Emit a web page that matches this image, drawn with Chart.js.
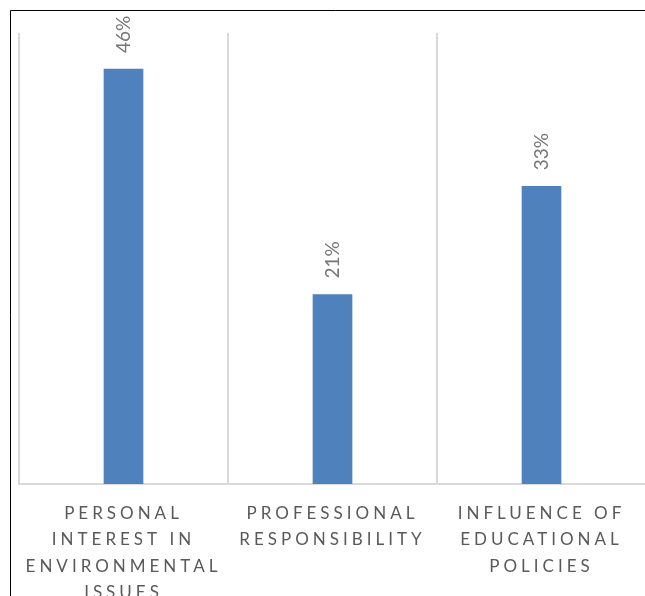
<!DOCTYPE html>
<html>
<head>
<meta charset="utf-8">
<script src="https://cdn.jsdelivr.net/npm/chart.js@4.4.0/dist/chart.umd.min.js"></script>
<style>
  html, body { margin: 0; padding: 0; background: #ffffff; overflow: hidden; }
  #wrap { position: absolute; left: 0; top: 0; width: 660px; height: 620px; }
</style>
</head>
<body>
<div id="wrap"><canvas id="chart" width="660" height="620"></canvas></div>
<script>
// Share of respondents by motivation
const categories = [
  ['PERSONAL', 'INTEREST IN', 'ENVIRONMENTAL', 'ISSUES'],
  ['PROFESSIONAL', 'RESPONSIBILITY'],
  ['INFLUENCE OF', 'EDUCATIONAL', 'POLICIES']
];
const values = [46, 21, 33];
const valueSuffix = '%';

const FONT = 'Lato, "Open Sans", "DejaVu Sans", sans-serif';

// Thin frame along the top and left edges of the figure
const framePlugin = {
  id: 'frame',
  beforeDraw(chart) {
    const ctx = chart.ctx;
    ctx.save();
    ctx.strokeStyle = '#000000';
    ctx.lineWidth = 1;
    ctx.beginPath();
    ctx.moveTo(10.5, chart.height);
    ctx.lineTo(10.5, 10.5);
    ctx.lineTo(chart.width, 10.5);
    ctx.stroke();
    ctx.restore();
    // spaced capitals for the category labels
    ctx.letterSpacing = '4px';
  }
};

// Vertical value labels above each bar
const valueLabels = {
  id: 'valueLabels',
  afterDatasetsDraw(chart) {
    const ctx = chart.ctx;
    const meta = chart.getDatasetMeta(0);
    ctx.save();
    ctx.letterSpacing = '0px';
    ctx.fillStyle = '#767676';
    ctx.font = '19px ' + FONT;
    ctx.textAlign = 'left';
    ctx.textBaseline = 'middle';
    meta.data.forEach((bar, i) => {
      ctx.save();
      ctx.translate(bar.x, bar.y - 16);
      ctx.rotate(-Math.PI / 2);
      ctx.fillText(values[i] + valueSuffix, 0, 0);
      ctx.restore();
    });
    ctx.restore();
  }
};

new Chart(document.getElementById('chart'), {
  type: 'bar',
  data: {
    labels: categories,
    datasets: [{
      data: values,
      backgroundColor: '#4f81bd',
      borderWidth: 0,
      barThickness: 39
    }]
  },
  options: {
    responsive: false,
    devicePixelRatio: 1,
    animation: false,
    layout: { padding: { left: 19, top: 33, right: 14, bottom: 0 } },
    plugins: {
      legend: { display: false },
      tooltip: { enabled: false }
    },
    scales: {
      x: {
        offset: true,
        grid: {
          offset: true,
          color: '#d9d9d9',
          lineWidth: 2,
          drawTicks: false
        },
        border: { color: '#d9d9d9', width: 2 },
        ticks: {
          color: '#595959',
          font: { family: FONT, size: 17, lineHeight: 1.53 },
          padding: 17,
          autoSkip: false,
          maxRotation: 0,
          minRotation: 0
        },
        afterFit(scale) { scale.height = 136; }
      },
      y: {
        display: false,
        min: 0,
        max: 50
      }
    }
  },
  plugins: [framePlugin, valueLabels]
});
</script>
</body>
</html>
